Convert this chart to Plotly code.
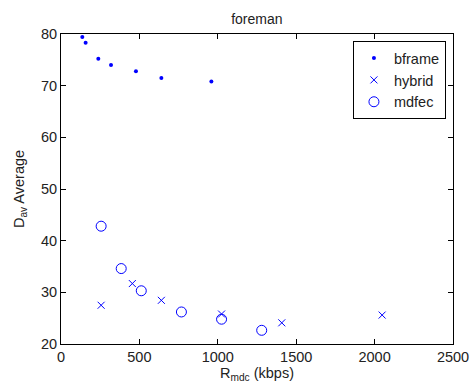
import plotly.graph_objects as go

bframe_x = [136, 157, 238, 319, 478, 640, 959]
bframe_y = [79.4, 78.3, 75.2, 74.0, 72.8, 71.5, 70.8]

hybrid_x = [256, 455, 640, 1024, 1408, 2048]
hybrid_y = [27.5, 31.7, 28.45, 25.8, 24.1, 25.6]

mdfec_x = [256, 384, 512, 768, 1024, 1280]
mdfec_y = [42.8, 34.6, 30.3, 26.2, 24.8, 22.65]

x_ticks = [0, 500, 1000, 1500, 2000, 2500]
y_ticks = [20, 30, 40, 50, 60, 70, 80]

blue = "#0000ff"
fnt = "Liberation Sans, Arial, sans-serif"

fig = go.Figure()
fig.add_trace(go.Scatter(x=bframe_x, y=bframe_y, mode="markers", name="bframe",
                         marker=dict(symbol="circle", size=4, color=blue)))
fig.add_trace(go.Scatter(x=hybrid_x, y=hybrid_y, mode="markers", name="hybrid",
                         marker=dict(symbol="x-thin-open", size=7, color=blue,
                                     line=dict(color=blue, width=1))))
fig.add_trace(go.Scatter(x=mdfec_x, y=mdfec_y, mode="markers", name="mdfec",
                         marker=dict(symbol="circle-open", size=10, color=blue,
                                     line=dict(color=blue, width=1))))

axis_common = dict(showline=True, linecolor="black", linewidth=1, mirror="allticks",
                   ticks="inside", ticklen=5, tickcolor="black", showgrid=False,
                   zeroline=False, automargin=False,
                   tickfont=dict(size=14.5, color="#222", family=fnt))

fig.update_layout(
    width=470, height=383,
    margin=dict(l=61, r=17, t=34, b=39),
    paper_bgcolor="white", plot_bgcolor="white",
    font=dict(family=fnt, color="#222"),
    title=dict(text="foreman", x=0.5465, xanchor="center", y=0.95, yanchor="middle",
               font=dict(size=14, color="#222", family=fnt)),
    xaxis=dict(range=[0, 2500], tickvals=x_ticks,
               title=dict(text="R<sub>mdc</sub> (kbps)", standoff=0,
                          font=dict(size=14.5, family=fnt)), **axis_common),
    yaxis=dict(range=[20, 80], tickvals=y_ticks,
               title=dict(text="D<sub>av</sub> Average", standoff=12,
                          font=dict(size=14.5, family=fnt)), **axis_common),
    legend=dict(x=0.982, xanchor="right", y=0.977, yanchor="top",
                bordercolor="black", borderwidth=1, bgcolor="white",
                font=dict(size=14.5, family=fnt), itemwidth=30, tracegroupgap=0),
    showlegend=True,
)

fig.write_html("out.html", config={"displayModeBar": False},
               post_script="document.body.style.margin='0';document.body.style.overflow='hidden';")
